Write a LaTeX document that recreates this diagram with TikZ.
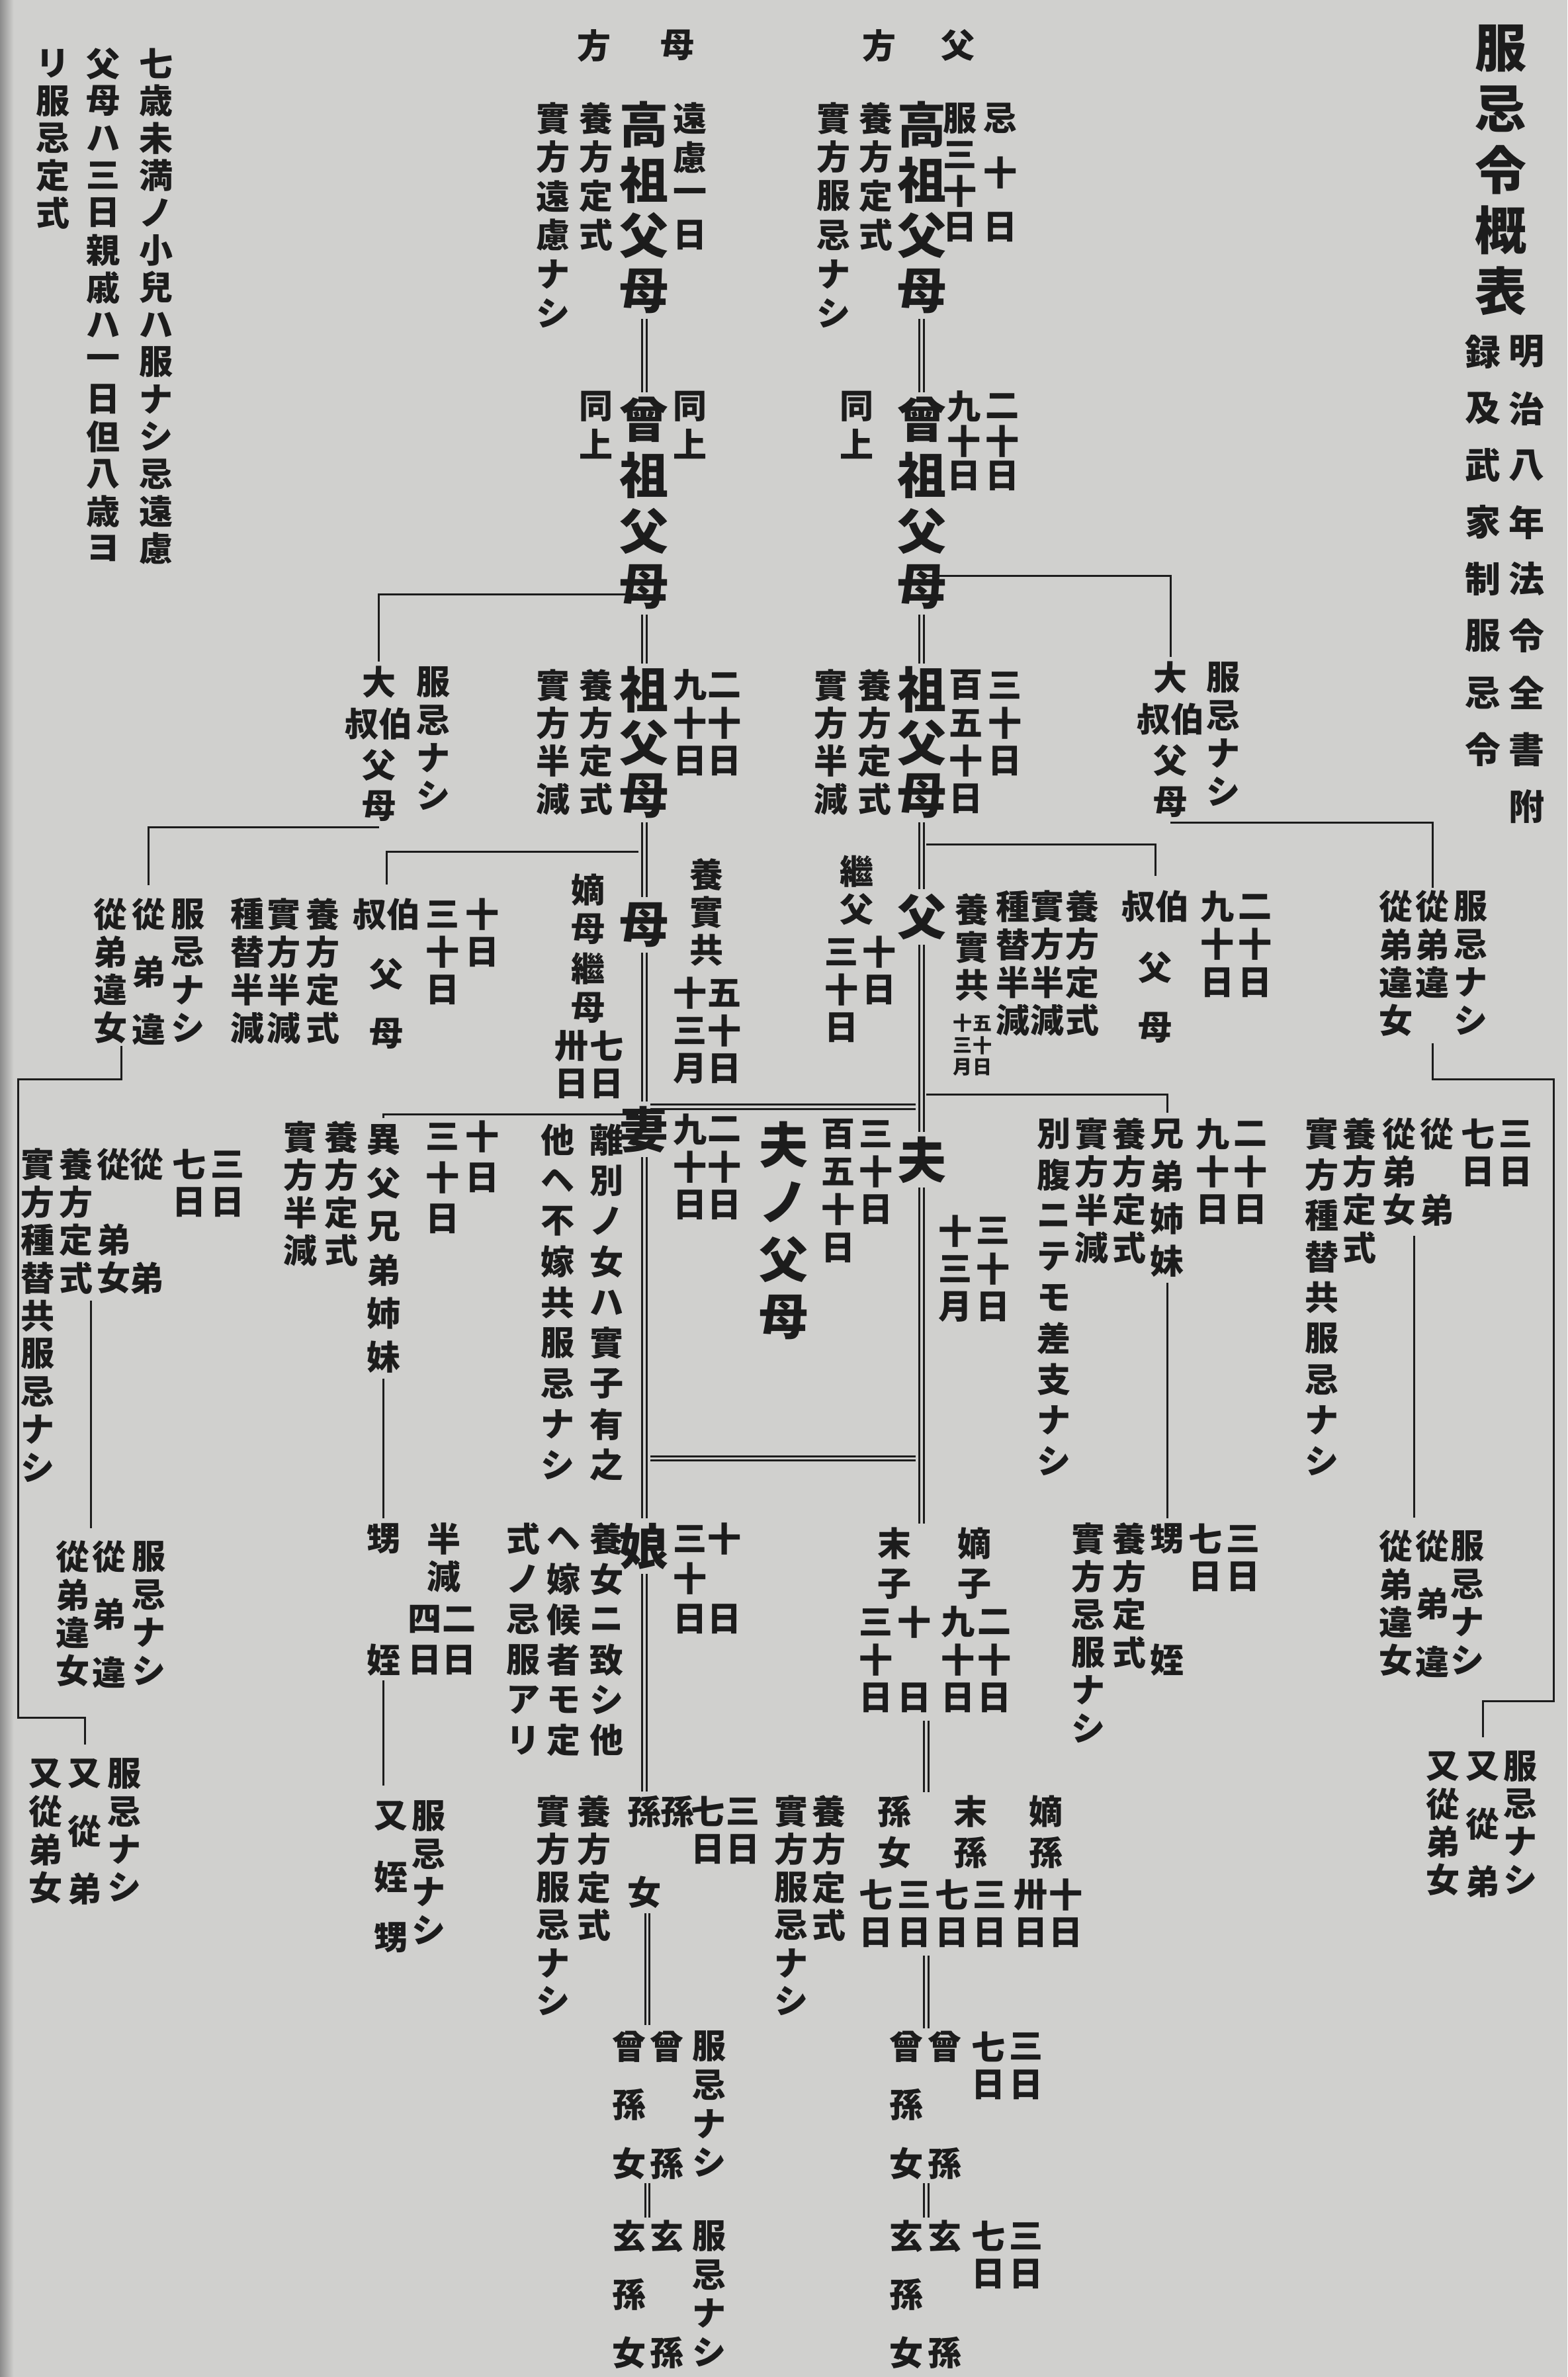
\documentclass[tikz,border=0pt]{standalone}
\usepackage{fontspec}
\newfontfamily\jp{Noto Sans CJK JP}
\definecolor{paper}{RGB}{208,208,206}
\definecolor{ink}{RGB}{28,28,28}
\newdimen\kux \kux=2.291pt
\ExplSyntaxOn
\NewDocumentCommand\Tcol{O{25\kux}m}
 {
  \vtop
   {
    \offinterlineskip
    \tl_map_inline:nn {#2}
     {
      \hbox_to_wd:nn {1em}
       {
        \hss
        \lower \dim_eval:n {(#1)/2} \vbox_to_ht:nn {#1} {\vss \hbox{##1} \vss}
        \hss
       }
     }
   }
 }
\ExplSyntaxOff
\tikzset{
 sm/.style={font=\jp\bfseries\fontsize{51pt}{51pt}\selectfont, text=ink, inner sep=0pt, outer sep=0pt, anchor=base},
 bg/.style={sm, font=\jp\bfseries\fontsize{74pt}{74pt}\selectfont},
 tinyk/.style={sm, font=\jp\bfseries\fontsize{29pt}{29pt}\selectfont},
 ttl/.style={sm, font=\jp\bfseries\fontsize{78pt}{78pt}\selectfont},
 sub/.style={sm, font=\jp\bfseries\fontsize{54pt}{54pt}\selectfont},
 ln/.style={draw=ink, line width=3pt},
 dbl/.style={draw=ink, line width=3pt, double=paper, double distance=3.6pt},
}
\NewDocumentCommand\KS{O{25}mmm}{\node[sm] (#2) at (#3) {\Tcol[#1\kux]{#4}};}
\NewDocumentCommand\KB{O{36.7}mmm}{\node[bg] (#2) at (#3) {\Tcol[#1\kux]{#4}};}
\NewDocumentCommand\KT{O{14.5}mmm}{\node[tinyk] (#2) at (#3) {\Tcol[#1\kux]{#4}};}
\begin{document}
\begin{tikzpicture}[x=2.291pt,y=-2.291pt]
\fill[paper] (0,0) rectangle (1034,1568);
\useasboundingbox (0,0) rectangle (1034,1568);
\shade[left color=black!45, right color=paper] (0,0) rectangle (9,1568);
% title and notes
\node[ttl] (title) at (990,32) {\Tcol[40\kux]{服忌令概表}};
\node[sub] (sub1) at (1007,232) {\Tcol[37.5\kux]{明治八年法令全書附}};
\node[sub] (sub2) at (978,232) {\Tcol[37.5\kux]{録及武家制服忌令}};
\KS[24.6]{n1}{103,42}{七歳未満ノ小兒ハ服ナシ忌遠慮}
\KS[24.6]{n2}{68,42}{父母ハ三日親戚ハ一日但八歳ヨ}
\KS[24.6]{n3}{35,42}{リ服忌定式}
\KS{hm1}{447,30}{母}
\KS{hm2}{392,30}{方}
\KS{hp1}{632,30}{父}
\KS{hp2}{580,30}{方}
% G1
\KB{mA}{425,82}{高祖父母}
\KS[25.7]{mA1}{455,78}{遠慮一日}
\KS[25.7]{mA2}{393,78}{養方定式}
\KS[25.7]{mA3}{365,78}{實方遠慮ナシ}
% G2
\KB{mB}{425,277}{曾祖父母}
\KS{mB1}{455,268}{同上}
\KS{mB2}{393,268}{同上}
% G3
\KB{pA}{608,82}{高祖父母}
\KS[36]{pA1}{660,78}{忌十日}
\KS[24]{pA2}{633,78}{服三十日}
\KS[25.7]{pA3}{578,78}{養方定式}
\KS[25.7]{pA4}{550,78}{實方服忌ナシ}
% G4
\KB{pB}{608,277}{曾祖父母}
\KS[23]{pB1}{661,268}{二十日}
\KS[23]{pB2}{636,268}{九十日}
\KS{pB3}{565,268}{同上}
% G5
\KB[35]{mC}{425,455}{祖父母}
\KS{mC1}{478,452}{二十日}
\KS{mC2}{455,452}{九十日}
\KS{mC3}{393,452}{養方定式}
\KS{mC4}{365,452}{實方半減}
% G6
\KS[27.3]{mD}{250,450}{大{叔伯}父母}
\KS{mD1}{286,450}{服忌ナシ}
% G7
\KB[35]{pC}{608,455}{祖父母}
\KS{pC1}{663,452}{三十日}
\KS{pC2}{637,452}{百五十日}
\KS{pC3}{577,452}{養方定式}
\KS{pC4}{548,452}{實方半減}
% G8
\KS[27.3]{pD}{772,447}{大{叔伯}父母}
\KS{pD1}{807,447}{服忌ナシ}
% G9
\KB{mE}{425,610}{母}
\KS{mE1}{466,577}{養實共}
\KS{mE2}{478,655}{五十日}
\KS{mE3}{455,655}{十三月}
\KS[26]{mE4}{388,587}{嫡母繼母}
\KS{mE5}{400,690}{七日}
\KS{mE6}{377,690}{卅日}
% G10
\KS[39.5]{mF}{255,603}{{叔伯}父母}
\KS{mF1}{318,603}{十日}
\KS{mF2}{292,603}{三十日}
\KS{mF3}{213,603}{養方定式}
\KS{mF4}{187,603}{實方半減}
\KS{mF5}{163,603}{種替半減}
% G11
\KS{mG1}{124,603}{服忌ナシ}
\KS[38]{mG}{98,603}{從弟違}
\KS{mG2}{73,603}{從弟違女}
% G12
\KB{pE}{608,605}{父}
\KS{pE1}{565,575}{繼父}
\KS{pE2}{580,628}{十日}
\KS{pE3}{555,628}{三十日}
\KS[25]{pE4}{641,600}{養實共}
\KT{pE5}{648,675}{五十日}
\KT{pE6}{635,675}{十三月}
% G13
\KS[40]{pF}{762,598}{{叔伯}父母}
\KS{pF1}{803,598}{九十日}
\KS{pF2}{828,598}{二十日}
\KS{pF3}{714,598}{養方定式}
\KS{pF4}{691,598}{實方半減}
\KS{pF5}{668,598}{種替半減}
% G14
\KS{pG1}{970,598}{服忌ナシ}
\KS{pG}{945,598}{從弟違}
\KS{pG2}{921,598}{從弟違女}
% G15
\KB{mH}{425,745}{妻}
\KS{mH1}{478,745}{二十日}
\KS{mH2}{455,745}{九十日}
\KS[26.8]{mH3}{400,752}{離別ノ女ハ實子有之}
\KS[26.8]{mH4}{368,752}{他ヘ不嫁共服忌ナシ}
% G16
\KB[38]{hP}{517,755}{夫ノ父母}
\KS{hP1}{578,748}{三十日}
\KS{hP2}{553,748}{百五十日}
% G17
\KB{pH}{608,765}{夫}
\KS{pH1}{655,812}{三十日}
\KS{pH2}{630,812}{十三月}
% G18
\KS[28.6]{mI}{253,752}{異父兄弟姉妹}
\KS[27]{mI1}{318,750}{十日}
\KS[27]{mI2}{292,750}{三十日}
\KS{mI3}{225,750}{養方定式}
\KS{mI4}{198,750}{實方半減}
% G19
\KS{mJ1}{150,768}{三日}
\KS{mJ2}{125,768}{七日}
\KS{mJ3}{97,768}{從　　弟}
\KS{mJ}{75,768}{從　弟女}
\KS{mJ4}{50,768}{養方定式}
\KS{mJ5}{25,768}{實方種替共服忌ナシ}
% G20
\KS[28]{pI}{770,748}{兄弟姉妹}
\KS{pI1}{800,748}{九十日}
\KS{pI2}{825,748}{二十日}
\KS{pI3}{745,748}{養方定式}
\KS{pI4}{720,748}{實方半減}
\KS[27]{pI5}{695,748}{別腹ニテモ差支ナシ}
% G21
\KS{pJ1}{1000,748}{三日}
\KS{pJ2}{975,748}{七日}
\KS{pJ3}{948,748}{從　弟}
\KS{pJ}{923,748}{從弟女}
\KS{pJ4}{897,748}{養方定式}
\KS[27]{pJ5}{872,748}{實方種替共服忌ナシ}
% G22
\KB{mK}{425,1020}{娘}
\KS[26.5]{mK1}{478,1015}{十　日}
\KS[26.5]{mK2}{455,1015}{三十日}
\KS[26.6]{mK3}{400,1015}{養女ニ致シ他}
\KS[26.6]{mK4}{372,1015}{ヘ嫁候者モ定}
\KS[26.6]{mK5}{345,1015}{式ノ忌服アリ}
% G23
\KS[26.7]{mL}{253,1015}{甥　　姪}
\KS[25]{mL1}{293,1015}{半減}
\KS[27]{mL2}{280,1068}{四日}
\KS[27]{mL3}{303,1068}{二日}
% G24
\KS{mM1}{98,1027}{服忌ナシ}
\KS[38]{mM}{72,1027}{從弟違}
\KS{mM2}{48,1027}{從弟違女}
% G25
\KS[27]{pK1}{590,1018}{末子}
\KS[27]{pK2}{643,1018}{嫡子}
\KS{pK3}{578,1070}{三十日}
\KS[50]{pK4}{603,1070}{十日}
\KS{pK5}{632,1070}{九十日}
\KS{pK6}{656,1070}{二十日}
% G26
\KS[26.7]{pL}{770,1015}{甥　　姪}
\KS{pL1}{795,1015}{七日}
\KS{pL2}{820,1015}{三日}
\KS{pL3}{745,1015}{養方定式}
\KS{pL4}{718,1015}{實方忌服ナシ}
% G27
\KS{pM1}{968,1020}{服忌ナシ}
\KS[38]{pM}{945,1020}{從弟違}
\KS{pM2}{921,1020}{從弟違女}
% G28
\KS{mN1}{82,1170}{服忌ナシ}
\KS[38]{mN}{56,1170}{又從弟}
\KS{mN2}{30,1170}{又從弟女}
% G34
\KS{pO1}{1003,1165}{服忌ナシ}
\KS[38]{pO}{978,1165}{又從弟}
\KS{pO2}{952,1165}{又從弟女}
% G29
\KS{mO1}{283,1198}{服忌ナシ}
\KS[40]{mO}{258,1198}{又姪甥}
% G30
\KS{mP2}{490,1195}{三日}
\KS{mP3}{467,1195}{七日}
\KS{mP1}{447,1195}{孫}
\KS[26.5]{mP}{425,1195}{孫　女}
\KS{mP4}{392,1195}{養方定式}
\KS{mP5}{365,1195}{實方服忌ナシ}
% G31
\KS{pN9}{522,1195}{實方服忌ナシ}
\KS{pN10}{547,1195}{養方定式}
\KS[27]{pN}{590,1195}{孫女}
\KS[27]{pN1}{640,1195}{末孫}
\KS[27]{pN2}{690,1195}{嫡孫}
\KS{pN3}{578,1250}{七日}
\KS{pN4}{603,1250}{三日}
\KS{pN5}{628,1250}{七日}
\KS{pN6}{653,1250}{三日}
\KS{pN7}{680,1250}{卅日}
\KS{pN8}{703,1250}{十日}
% G32
\KS[38.5]{mQ}{415,1350}{曾孫女}
\KS[77]{mQ1}{440,1350}{曾孫}
\KS[25.5]{mQ2}{468,1350}{服忌ナシ}
\KS[38.5]{pQ}{598,1350}{曾孫女}
\KS[77]{pQ1}{623,1350}{曾孫}
\KS{pQ2}{652,1350}{七日}
\KS{pQ3}{677,1350}{三日}
% G33
\KS[38.5]{mR}{415,1475}{玄孫女}
\KS[77]{mR1}{440,1475}{玄孫}
\KS[25.5]{mR2}{468,1475}{服忌ナシ}
\KS[38.5]{pR}{598,1475}{玄孫女}
\KS[77]{pR1}{623,1475}{玄孫}
\KS{pR2}{652,1475}{七日}
\KS{pR3}{677,1475}{三日}
% ---- double lineage lines
\draw[dbl] (mA.south) -- (mB.north);
\draw[dbl] (mB.south) -- (mC.north);
\draw[dbl] (mC.south) -- (mE.north);
\draw[dbl] (mE.south) -- (mH.north);
\draw[dbl] (mH.south) -- (mK.north);
\draw[dbl] (mK.south) -- (mP.north);
\coordinate (dm1) at (427,1262);
\coordinate (dm2) at (427,1336);
\draw[dbl] (dm1) -- (dm2);
\coordinate (dm3) at (427,1440);
\coordinate (dm4) at (427,1463);
\draw[dbl] (dm3) -- (dm4);
\draw[dbl] (pA.south) -- (pB.north);
\draw[dbl] (pB.south) -- (pC.north);
\draw[dbl] (pC.south) -- (pE.north);
\draw[dbl] (pE.south) -- (pH.north);
\coordinate (dp1) at (608,1005);
\draw[dbl] (pH.south) -- (dp1);
\coordinate (dp2) at (611,1135);
\coordinate (dp3) at (611,1182);
\draw[dbl] (dp2) -- (dp3);
\coordinate (dp4) at (611,1290);
\coordinate (dp5) at (611,1338);
\draw[dbl] (dp4) -- (dp5);
\coordinate (dp6) at (611,1440);
\coordinate (dp7) at (611,1463);
\draw[dbl] (dp6) -- (dp7);
\coordinate (h1a) at (429,730);
\coordinate (h1b) at (604,730);
\draw[dbl] (h1a) -- (h1b);
\coordinate (h2a) at (429,962);
\coordinate (h2b) at (604,962);
\draw[dbl] (h2a) -- (h2b);
% ---- single connectors
\coordinate (s1) at (421,392);
\draw[ln] (s1) -| (mD.north);
\coordinate (s2) at (611,380);
\draw[ln] (s2) -| (pD.north);
\draw[ln] (mD.south) -| (mG.north);
\draw[ln] (pD.south) -| (pG.north);
\coordinate (s5) at (421,562);
\draw[ln] (s5) -| (mF.north);
\coordinate (s6) at (611,557);
\draw[ln] (s6) -| (pF.north);
\coordinate (s7) at (421,735);
\draw[ln] (s7) -| (mI.north);
\coordinate (s8) at (611,722);
\draw[ln] (s8) -| (pI.north);
\coordinate (s9a) at (80,690);
\coordinate (s9b) at (12,712);
\coordinate (s9c) at (12,1133);
\draw[ln] (s9a) |- (s9b) -- (s9c) -| (mN.north);
\coordinate (s10a) at (945,688);
\coordinate (s10b) at (1025,712);
\coordinate (s10c) at (1025,1122);
\draw[ln] (s10a) |- (s10b) -- (s10c) -| (pO.north);
\coordinate (s11) at (60,858);
\draw[ln] (s11) -- (s11 |- mM.north);
\coordinate (s12) at (933,815);
\draw[ln] (s12) -- (s12 |- pM.north);
\draw[ln] (mI.south) -- (mL.north);
\draw[ln] (mL.south) -- (mL.south |- mO.north);
\draw[ln] (pI.south) -- (pL.north);
\end{tikzpicture}
\end{document}
